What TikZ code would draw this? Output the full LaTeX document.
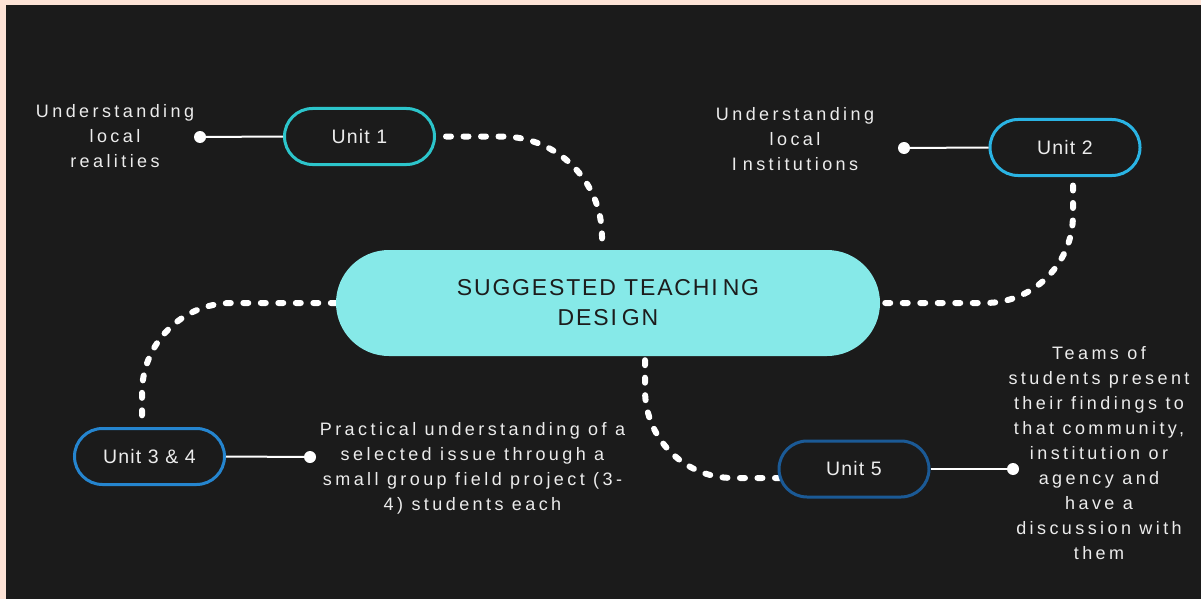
\documentclass[tikz,border=0pt]{standalone}
\usepackage{fontspec}
\setmainfont{Liberation Sans}
\newfontfamily\notefont[LetterSpace=19]{Liberation Sans}
\newfontfamily\pillfont[LetterSpace=6]{Liberation Sans}
\newfontfamily\titlefont[LetterSpace=8]{Liberation Sans}
\usetikzlibrary{shapes.misc}

\definecolor{pagebg}{HTML}{FDE3D6}
\definecolor{panel}{HTML}{1B1B1B}
\definecolor{maincyan}{HTML}{86E9E8}
\definecolor{titletext}{HTML}{1C1C1C}
\definecolor{softwhite}{HTML}{ECECEC}
\definecolor{ucolA}{HTML}{2CC5CB}
\definecolor{ucolB}{HTML}{2AB4E4}
\definecolor{ucolC}{HTML}{2585CF}
\definecolor{ucolD}{HTML}{1B5A96}

\pgfdeclarelayer{panel}
\pgfdeclarelayer{links}
\pgfsetlayers{panel,links,main}

\tikzset{
  mainpill/.style={rounded rectangle, fill=maincyan, minimum width=544pt,
    minimum height=106pt, align=center, text=titletext, inner sep=0pt,
    font=\titlefont\fontsize{23}{30}\selectfont},
  unitpill/.style={rounded rectangle, line width=3pt, fill=panel,
    minimum width=150pt, minimum height=56pt, text=softwhite, inner sep=0pt,
    font=\pillfont\fontsize{19.5}{22}\selectfont},
  notetext/.style={align=center, text=softwhite, inner sep=0pt,
    font=\notefont\fontsize{18}{25}\selectfont},
  enddot/.style={circle, fill=white, inner sep=0pt, minimum size=12pt},
  tieline/.style={draw=white, line width=2pt},
  dotline/.style={draw=white, line width=6pt, line cap=round,
    dash pattern=on 5pt off 12.5pt}
}

\begin{document}
\begin{tikzpicture}[x=1pt,y=-1pt]
  % page border and dark panel
  \begin{pgfonlayer}{panel}
    \fill[pagebg] (0,0) rectangle (1201,599);
    \fill[panel] (6,5) rectangle (1201,599);
  \end{pgfonlayer}
  \useasboundingbox (0,0) rectangle (1201,599);

  % central topic
  \node[mainpill] (main) at (608,303)
    {SUGGESTED TEACHI\kern5pt NG\\DESI\kern5pt GN};

  % unit pills
  \node[unitpill, draw=ucolA] (u1)  at (359.5,136.5) {Unit 1};
  \node[unitpill, draw=ucolB] (u2)  at (1065,147.5)  {Unit 2};
  \node[unitpill, draw=ucolC] (u34) at (149.5,456.5) {Unit 3 \& 4};
  \node[unitpill, draw=ucolD] (u5)  at (854,469)     {Unit 5};

  % end dots of the description ties
  \node[enddot] (d1)  at (200,137)  {};
  \node[enddot] (d2)  at (904,148)  {};
  \node[enddot] (d34) at (310,457)  {};
  \node[enddot] (d5)  at (1013,469) {};

  % descriptions
  \node[notetext] (t1) at (115,136) {Understanding\\local\\realities};
  \node[notetext] (t2) at (795,139) {Understanding\\local\\I\kern6pt nstitutions};
  \node[notetext] (t34) at (472.5,468.5)
    {Practical understanding of a\\selected issue through a\\small group field project (3-\\4) students each};
  \node[notetext] (t5) at (1099,453)
    {Teams of\\students present\\their findings to\\that community,\\institution or\\agency and\\have a\\discussion with\\them};

  % ties from pills to their descriptions
  \draw[tieline] (u1.west)  -- (d1.center);
  \draw[tieline] (u2.west)  -- (d2.center);
  \draw[tieline] (u34.east) -- (d34.center);
  \draw[tieline] (u5.east)  -- (d5.center);

  % dotted branches from the central topic
  \begin{pgfonlayer}{links}
    \draw[dotline, rounded corners=100pt]
      ([xshift=10pt]u1.east) -| ([xshift=-6pt]main.north);
    \draw[dotline, rounded corners=88pt]
      ([xshift=8pt,yshift=-8.5pt]u2.south) |- (main.east);
    \draw[dotline, rounded corners=90pt]
      (main.west) -| ([xshift=-7.5pt,yshift=7.5pt]u34.north);
    \draw[dotline, rounded corners=88pt]
      ([xshift=37pt,yshift=-4pt]main.south) |- ([xshift=-1pt,yshift=-9pt]u5.east);
  \end{pgfonlayer}
\end{tikzpicture}
\end{document}
